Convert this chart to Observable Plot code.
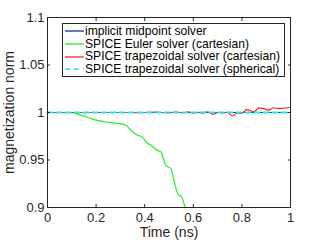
<!DOCTYPE html>
<html><head><meta charset="utf-8">
<script src="https://cdn.jsdelivr.net/npm/d3@7"></script>
<script src="https://cdn.jsdelivr.net/npm/@observablehq/plot@0.6"></script>
<style>
body{margin:0;background:#fff;}
#wrap{position:relative;width:320px;height:240px;font-family:"Liberation Sans",Arial,sans-serif;}
#legend{position:absolute;left:62px;top:23px;width:223px;height:54px;border:1px solid #262626;background:#fff;font-size:12.1px;line-height:12.7px;padding-top:1px;box-sizing:border-box;color:#000;}
#legend div{display:flex;align-items:center;height:12.7px;white-space:nowrap;}
#legend svg{margin-left:2px;margin-right:1px;}
</style></head><body>
<div id="wrap"></div>
<script>
const seriesNames = ["implicit midpoint solver","SPICE Euler solver (cartesian)","SPICE trapezoidal solver (cartesian)","SPICE trapezoidal solver (spherical)"];
const seriesColors = ["#1a2a9a","#22ee22","#ff2222","#22e6e6"];
const xTicks = [0,0.2,0.4,0.6,0.8,1];
const yTicks = [0.9,0.95,1,1.05,1.1];
const xLabel = "Time (ns)";
const yLabel = "magnetization norm";

const midT = [0,1];
const midV = [1,1];
const eulerT = [0,0.05,0.1,0.13,0.17,0.2,0.23,0.26,0.29,0.323,0.343,0.371,0.391,0.405,0.426,0.453,0.467,0.487,0.508,0.522,0.536,0.552,0.566];
const eulerV = [1,1,0.9998,0.9978,0.9945,0.992,0.9905,0.9894,0.9885,0.9866,0.9813,0.976,0.9742,0.969,0.9655,0.960,0.9584,0.9443,0.941,0.9267,0.9145,0.911,0.900];
const trapCT = [0,0.1,0.2,0.3,0.4,0.45,0.5,0.53,0.56,0.58,0.6,0.62,0.64,0.66,0.68,0.7,0.72,0.74,0.76,0.78,0.8,0.82,0.85,0.87,0.89,0.91,0.93,0.95,0.97,0.99,1];
const trapCV = [1,1,1,1,1,1.0003,0.9997,1.0005,0.9996,1.0008,0.9993,1.0002,0.9995,1.0008,0.9982,1.0,0.9995,1.0002,0.9965,0.9995,0.9992,1.003,1.0008,1.0048,1.004,1.0025,1.005,1.004,1.0045,1.005,1.0055];
const trapST = [0,1];
const trapSV = [1,1];

const rows = (t,v)=>t.map((x,i)=>({t:x,v:v[i]}));
const fmt = d => String(d);

const plot = Plot.plot({
  width:320,height:240,
  marginLeft:47,marginRight:30,marginTop:17,marginBottom:33,
  style:{fontFamily:"Liberation Sans, Arial, sans-serif",fontSize:"13px",color:"#262626",background:"#fff"},
  x:{domain:[0,1]},
  y:{domain:[0.9,1.1]},
  marks:[
    Plot.line(rows(midT,midV),{x:"t",y:"v",stroke:seriesColors[0],strokeWidth:1.2}),
    Plot.line(rows(eulerT,eulerV),{x:"t",y:"v",stroke:seriesColors[1],strokeWidth:1.2,curve:"monotone-x"}),
    Plot.line(rows(trapCT,trapCV),{x:"t",y:"v",stroke:seriesColors[2],strokeWidth:1.2,curve:"catmull-rom"}),
    Plot.line(rows(trapST,trapSV),{x:"t",y:"v",stroke:seriesColors[3],strokeWidth:2,strokeDasharray:"5,4"}),
    Plot.frame({stroke:"#262626",strokeWidth:1}),
    Plot.axisX(xTicks,{anchor:"bottom",tickSize:-3,tickPadding:8,tickFormat:fmt,label:null,fontSize:13}),
    Plot.axisX(xTicks,{anchor:"top",tickSize:-3,tickFormat:()=>"",label:null}),
    Plot.axisY(yTicks,{anchor:"left",tickSize:-3,tickPadding:6,tickFormat:fmt,label:null,fontSize:13}),
    Plot.axisY(yTicks,{anchor:"right",tickSize:-3,tickFormat:()=>"",label:null}),
    Plot.text([xLabel],{frameAnchor:"bottom",lineAnchor:"middle",dy:25,fontSize:14,fill:"#262626"}),
    Plot.text([yLabel],{frameAnchor:"left",textAnchor:"middle",lineAnchor:"middle",rotate:-90,dx:-38,fontSize:14,fill:"#262626"})
  ]
});
const wrap = document.getElementById("wrap");
wrap.appendChild(plot);
const leg = document.createElement("div");
leg.id="legend";
seriesNames.forEach((n,i)=>{
  const r=document.createElement("div");
  const dash = i===3 ? 'stroke-dasharray="5,4" stroke-width="1.6"' : 'stroke-width="1.3"';
  r.innerHTML=`<svg width="19" height="4"><line x1="0" x2="19" y1="2" y2="2" stroke="${seriesColors[i]}" ${dash}/></svg><span>${n}</span>`;
  leg.appendChild(r);
});
wrap.appendChild(leg);
</script></body></html>
